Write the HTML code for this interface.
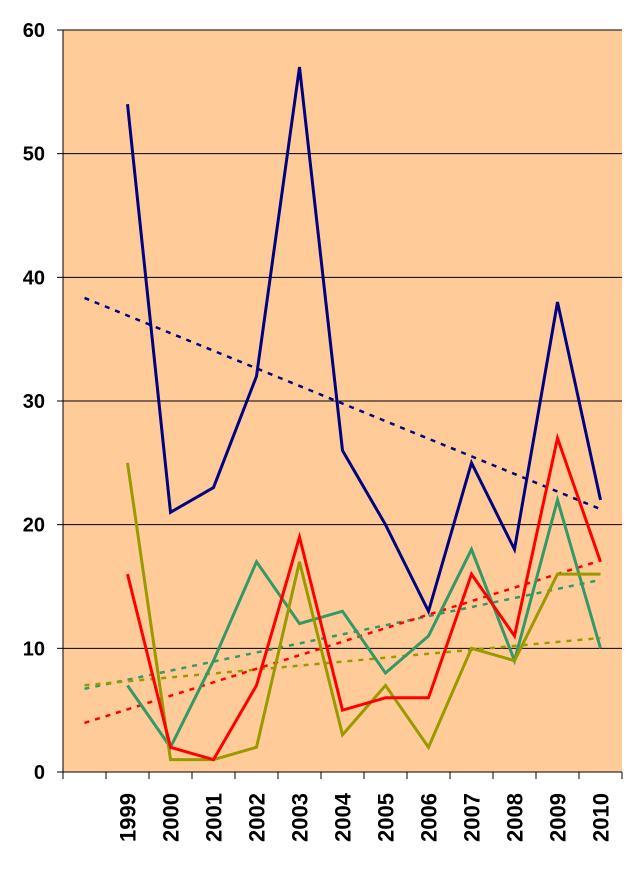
<!DOCTYPE html>
<html><head><meta charset="utf-8"><style>
body{margin:0;background:#fff;}
svg text{font-family:"Liberation Sans",Arial,sans-serif;font-weight:bold;fill:#000;}
</style></head><body>
<svg id="chart" width="630" height="864" viewBox="0 0 630 864" xmlns="http://www.w3.org/2000/svg">
<rect x="63" y="30" width="559" height="742" fill="#FFCC99"/>
<g id="grid"></g><g id="axes"></g><g id="trends"></g><g id="series"></g><g id="labels"></g>
</svg>
<script>
const categories=["","1999","2000","2001","2002","2003","2004","2005","2006","2007","2008","2009","2010"];
const yTicks=[0,10,20,30,40,50,60];
const blueValues=[null,54,21,23,32,57,26,20,13,25,18,38,22];
const redValues=[null,16,2,1,7,19,5,6,6,16,11,27,17];
const greenValues=[null,7,2,9,17,12,13,8,11,18,9,22,10];
const oliveValues=[null,25,1,1,2,17,3,7,2,10,9,16,16];
const seriesList=[
 {name:"blue",vals:blueValues,color:"#000080"},
 {name:"teal",vals:greenValues,color:"#339966"},
 {name:"olive",vals:oliveValues,color:"#999900"},
 {name:"red",vals:redValues,color:"#FF0000"}];
const L=63,R=622,T=30,B=772,NS="http://www.w3.org/2000/svg";
const bw=(R-L)/categories.length;
const x=i=>L+bw*(i+0.5);
const y=v=>B-(v/60)*(B-T);
function mk(tag,attrs,parent,name){const e=document.createElementNS(NS,tag);for(const k in attrs)e.setAttribute(k,attrs[k]);


document.getElementById(parent).appendChild(e);return e;}
yTicks.forEach(t=>{
 if(t>0) mk('line',{x1:L,x2:R,y1:y(t),y2:y(t),stroke:'#000','stroke-width':1},'grid','gridline-'+t);
 mk('line',{x1:L-6,x2:L,y1:y(t),y2:y(t),stroke:'#000','stroke-width':1},'axes','y-tick-'+t);
 const tx=mk('text',{x:45,y:y(t)+7,'text-anchor':'end','font-size':20},'labels','y-label-'+t);tx.textContent=t;
});
mk('line',{x1:L,x2:L,y1:T,y2:B,stroke:'#000','stroke-width':1},'axes','y-axis');
mk('line',{x1:L,x2:R,y1:B,y2:B,stroke:'#000','stroke-width':1},'axes','x-axis');
for(let i=0;i<=categories.length;i++) mk('line',{x1:L+bw*i,x2:L+bw*i,y1:B,y2:B+7,stroke:'#000','stroke-width':1},'axes','x-tick-'+i);
categories.forEach((c,i)=>{if(!c)return;
 const t=mk('text',{x:0,y:0,'text-anchor':'end','font-size':22,transform:`translate(${x(i)+8},793) rotate(-90)`},'labels','x-label-'+c);t.textContent=c;});
seriesList.forEach(s=>{
 const pts=[];s.vals.forEach((v,i)=>{if(v!==null)pts.push([i+1,v]);});
 const n=pts.length,mx=pts.reduce((a,p)=>a+p[0],0)/n,my=pts.reduce((a,p)=>a+p[1],0)/n;
 let sxy=0,sxx=0;pts.forEach(p=>{sxy+=(p[0]-mx)*(p[1]-my);sxx+=(p[0]-mx)**2;});
 const m=sxy/sxx,b=my-m*mx;
 mk('line',{x1:x(0),y1:y(m*1+b),x2:x(12),y2:y(m*13+b),stroke:s.color,'stroke-width':2.5,'stroke-dasharray':'5,6'},'trends','trendline-'+s.name);
 const d=s.vals.map((v,i)=>v===null?null:x(i)+','+y(v)).filter(Boolean).join(' ');
 mk('polyline',{points:d,fill:'none',stroke:s.color,'stroke-width':3,'stroke-linejoin':'miter'},'series','series-'+s.name);
});
</script>
</body></html>
